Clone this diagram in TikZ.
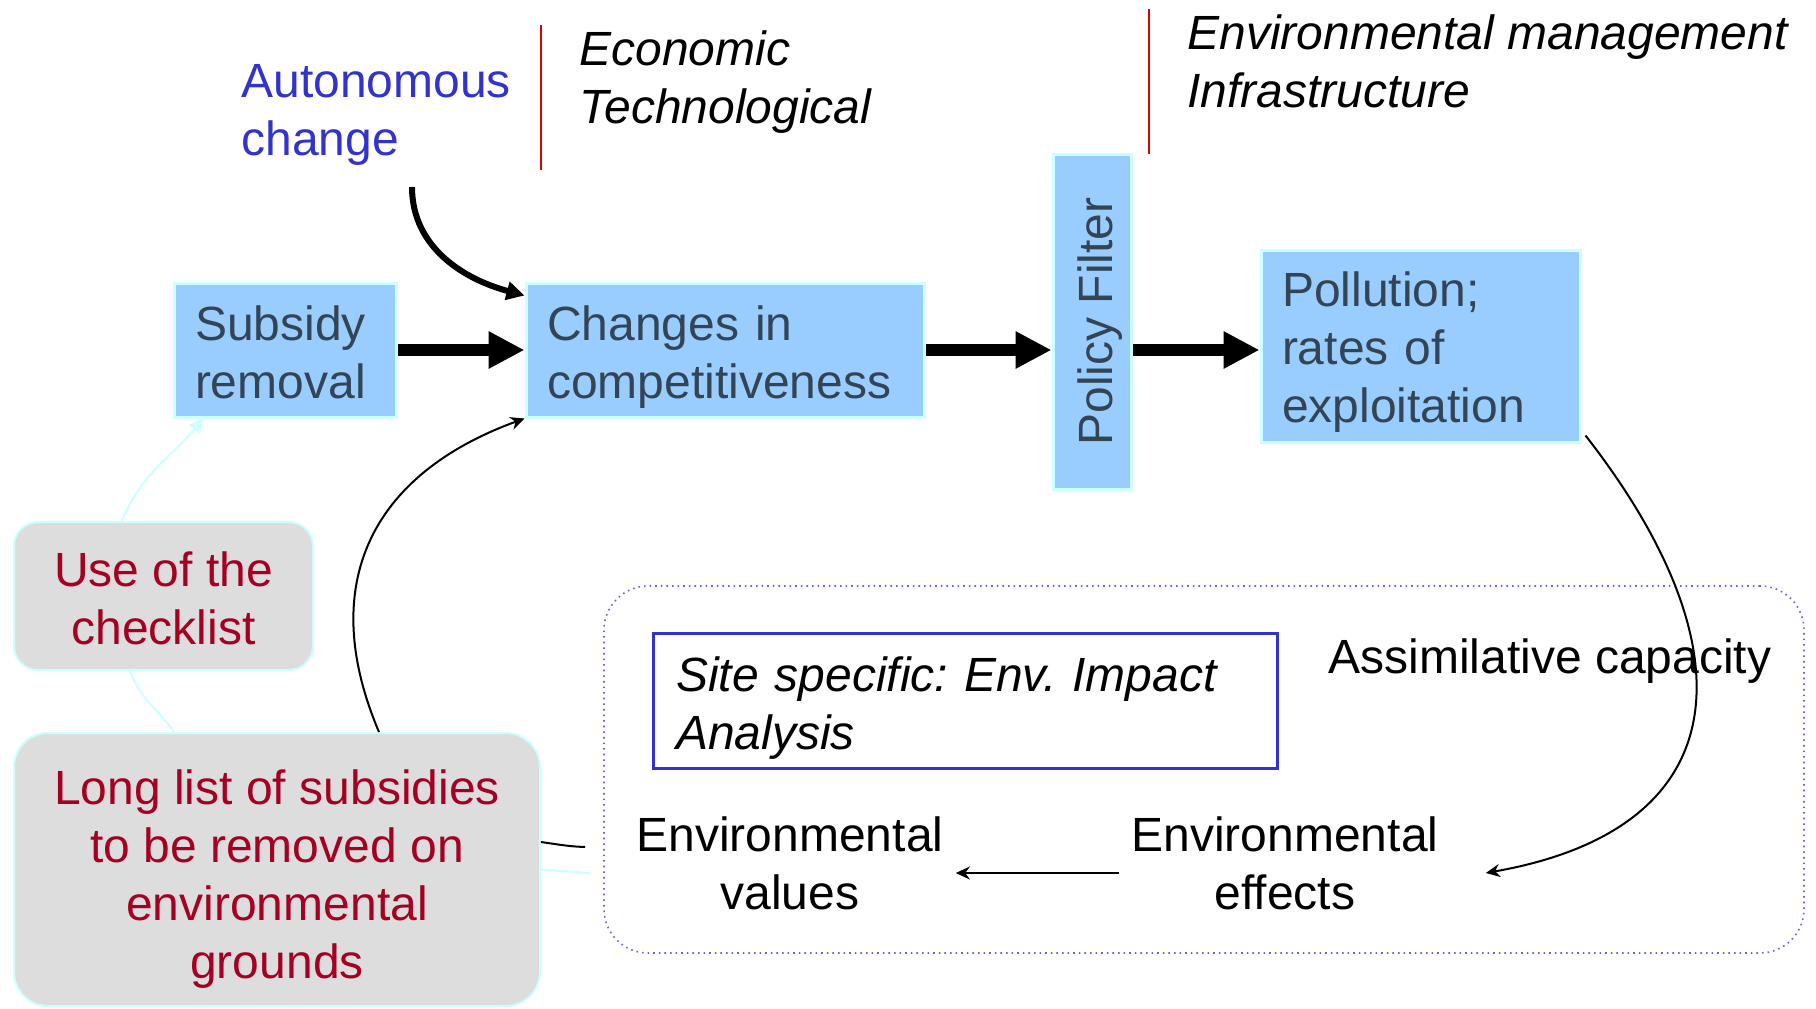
\documentclass[tikz,border=0pt]{standalone}
\usepackage{fontspec}
\setmainfont{Liberation Sans}
\usetikzlibrary{arrows.meta}
\definecolor{boxblue}{HTML}{99CCFF}
\definecolor{boxedge}{HTML}{CCFFFF}
\definecolor{boxtext}{HTML}{334455}
\definecolor{autoblue}{HTML}{3333CC}
\definecolor{listred}{HTML}{A50021}
\definecolor{listgray}{HTML}{DDDDDD}
\definecolor{dotblue}{HTML}{6666DD}
\definecolor{divred}{HTML}{E00000}
\tikzset{firstline/.style={execute at begin node={\rule{0pt}{#1}}}}

\begin{document}
\frenchspacing
\begin{tikzpicture}[x=0.5pt, y=-0.5pt]
\tikzstyle{big} = [font=\fontsize{24}{29}\selectfont]
\tikzstyle{stage} = [big, draw=boxedge, line width=1.5pt, fill=boxblue, text=boxtext, align=left, inner xsep=10.5pt, inner ysep=0pt]
\tikzstyle{note} = [big, draw=boxedge, line width=1pt, fill=listgray, text=listred, align=flush center, inner sep=0pt]
\tikzstyle{label} = [big, inner sep=0pt]
\tikzstyle{divider} = [draw=divred, line width=1pt]
\tikzstyle{flow} = [draw=black, line width=6pt, -{Triangle[length=18pt,width=17.5pt]}]
\tikzstyle{push} = [draw=black, line width=3pt, -{Triangle[length=9pt,width=9pt]}]
\tikzstyle{edge} = [draw=black, line width=1pt, -{Stealth[length=7pt,width=6.5pt]}]
\tikzstyle{hint} = [draw=boxedge, line width=1pt]

\useasboundingbox (0,0) rectangle (1816,1008);

\node[label, text=autoblue, align=left, anchor=west] (aut) at (241,115) {Autonomous\\change};
\node[label, align=left, anchor=west, font=\fontsize{24}{29}\selectfont\itshape] (eco) at (579,82.5) {Economic\\Technological};
\node[label, align=left, anchor=west, font=\fontsize{24}{29}\selectfont\itshape] (envm) at (1187,61.7) {Environmental management\\Infrastructure};
\draw[divider] (541,25) -- (541,170);
\draw[divider] (1149,9) -- (1149,154);

\node[stage, firstline=20pt, text width=90pt, minimum height=67pt] (sub) at (285,350) {Subsidy\\removal};
\node[stage, firstline=24.5pt, text width=178pt, minimum height=67pt] (chg) at (725,350) {Changes in\\competitiveness};
\node[stage, align=center, inner sep=0pt, minimum width=39pt, minimum height=167.5pt] (pf) at (1092,321.5) {\rotatebox{90}{\raisebox{-10pt}[0pt][0pt]{Policy Filter}}};
\node[stage, firstline=23.5pt, text width=138.5pt, minimum height=96pt] (pol) at (1420.5,346) {Pollution;\\rates of\\exploitation};

\node[note, firstline=20pt, text width=149.5pt, rounded corners=12pt, minimum height=74pt] (use) at (163.5,596) {Use of the\\checklist};
\node[note, firstline=26.7pt, text width=263pt, rounded corners=17pt, minimum height=136.5pt] (long) at (277,869.5) {Long list of subsidies\\to be removed on\\environmental\\grounds};

\node[draw=dotblue, dotted, line width=0.8pt, rounded corners=22pt, minimum width=600pt, minimum height=183.5pt] (zone) at (1204,769.5) {};
\node[big, firstline=24.5pt, draw=autoblue, line width=1.5pt, text width=289pt, align=left, inner xsep=11.5pt, inner ysep=0pt, minimum height=67.5pt, font=\fontsize{24}{29}\selectfont\itshape] (eia) at (965,700.5) {Site specific: Env. Impact\\Analysis};
\node[label, anchor=west] (assim) at (1328,661.5) {Assimilative capacity};
\node[label, align=center, inner xsep=6pt] (val) at (790,863) {Environmental\\values};
\node[label, align=center, inner xsep=6pt] (eff) at (1285,863) {Environmental\\effects};

\coordinate (autfoot) at (412,187);

\draw[flow] (sub.east) -- (chg.west);
\draw[flow] (chg.east) -- (chg.east -| pf.west);
\draw[flow] (pf.east |- chg.east) -- (pol.west |- chg.east);
\draw[push] (autfoot) to[out=-90, in=165] ([yshift=-7pt]chg.north west);
\draw[edge] ([xshift=51pt]long.north) to[out=113, in=200, looseness=1.2] (chg.south west);
\draw[edge] ([xshift=2pt,yshift=4pt]pol.south east) to[out=-52, in=10, looseness=1.5] ([xshift=17.5pt,yshift=-5pt]eff.east);
\draw[edge] ([yshift=-5pt]eff.west) -- ([yshift=-5pt]val.east);
\draw[draw=black, line width=1pt] ([yshift=13.75pt]long.east) to[out=-8, in=178] ([xshift=-9pt,yshift=-38.75pt]zone.west);
\draw[hint] (long.east) -- ([xshift=-7pt,yshift=-51.75pt]zone.west);
\draw[hint, -{Triangle[length=7pt,width=7pt]}] ([xshift=-20.75pt]use.north) to[out=68, in=-130] ([xshift=15.5pt]sub.south west);
\draw[hint] ([xshift=-51.5pt]long.north) to[out=125, in=-70] ([xshift=-16.75pt]use.south);
\end{tikzpicture}
\end{document}
